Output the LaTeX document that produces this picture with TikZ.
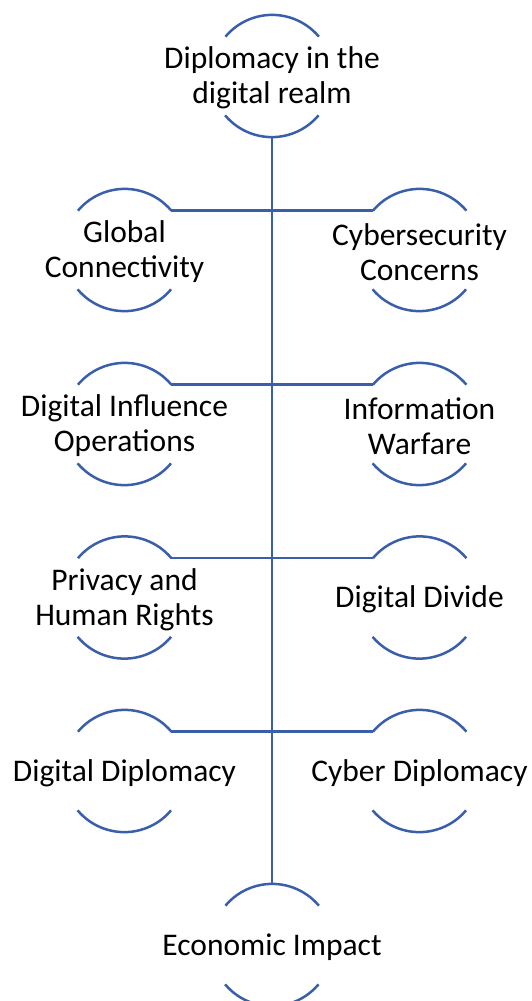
\documentclass[tikz,border=0pt]{standalone}
\usepackage{fontspec}
\setmainfont{Carlito}
\usepackage{tikz}
\definecolor{lineblue}{RGB}{58,95,170}

\tikzset{
	txt/.style = {font = \fontsize{31.5}{35}\selectfont, align = center, text = black, yshift = -2pt},
	ring/.style = {circle, minimum size = 122pt, inner sep = 0pt, label = {[txt]center:#1}},
	link/.style = {draw = lineblue, line width = 2.5pt},
}

\begin{document}
\begin{tikzpicture}[x = 1pt, y = 1pt]
		\useasboundingbox (0,0) rectangle (531,-1001);
		% Top and bottom
		\node [ring = {Diplomacy in the\\ digital realm}] (top) at (272,-76) {};
		\node [ring = {Economic Impact}] (econ) at (272,-945) {};
		% Left column
		\node [ring = {Global\\ Connectivity}] (glob) at (124.5,-250) {};
		\node [ring = {Digital Influence\\ Operations}] (infl) at (124.5,-424) {};
		\node [ring = {Privacy and\\ Human Rights}] (priv) at (124.5,-597.5) {};
		\node [ring = {Digital Diplomacy}] (dipl) at (124.5,-771) {};
		% Right column
		\node [ring = {Cybersecurity\\ Concerns}] (cyber) at (419.5,-250) {};
		\node [ring = {Information\\ Warfare}] (warf) at (419.5,-424) {};
		\node [ring = {Digital Divide}] (divide) at (419.5,-597.5) {};
		\node [ring = {Cyber Diplomacy}] (cdipl) at (419.5,-771) {};
		% Open circles
		\foreach \n in {top, econ, glob, infl, priv, dipl, cyber, warf, divide, cdipl} {
			\draw [link] (\n.40) arc (40:140:61pt);
			\draw [link] (\n.220) arc (220:320:61pt);
		}
		% Trunk
		\draw [link] (top.south) -- (econ.north);
		% Branches
		\draw [link] (glob.40) -- (cyber.140);
		\draw [link] (infl.40) -- (warf.140);
		\draw [link] (priv.40) -- (divide.140);
		\draw [link] (dipl.40) -- (cdipl.140);
\end{tikzpicture}
\end{document}
